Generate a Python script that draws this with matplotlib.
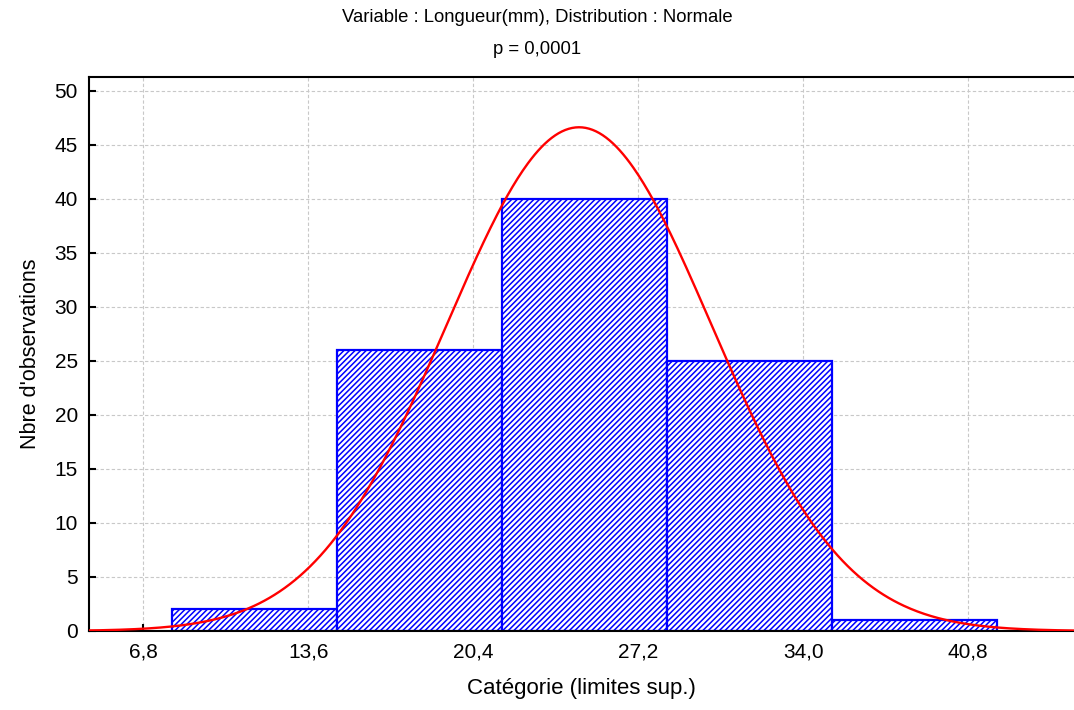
import numpy as np
import matplotlib
matplotlib.use("Agg")
import matplotlib.pyplot as plt
from matplotlib.ticker import FixedLocator

plt.rcParams['font.family'] = ['Liberation Sans', 'DejaVu Sans']
plt.rcParams['hatch.color'] = 'blue'
plt.rcParams['hatch.linewidth'] = 1.1

# histogram of lengths (mm), 5 classes of width 6.8
counts = [2, 26, 40, 25, 1]
first_edge = 7.97
bin_width = 6.8

# fitted normal curve
mean = 24.76
sd = 5.47
n_obs = sum(counts)

x_ticks = [6.8, 13.6, 20.4, 27.2, 34.0, 40.8]
x_ticklabels = ["6,8", "13,6", "20,4", "27,2", "34,0", "40,8"]
y_ticks = [0, 5, 10, 15, 20, 25, 30, 35, 40, 45, 50]


fig = plt.figure(figsize=(10.74, 7.10), dpi=100)
ax = fig.add_axes([89/1074, 1 - 631/710, (1074 - 89)/1074, (631 - 77)/710])

lefts = first_edge + bin_width*np.arange(len(counts))
ax.bar(lefts, counts, width=bin_width, align='edge', color='white',
       edgecolor='blue', linewidth=1.6, hatch='//////', zorder=2)

xs = np.linspace(4.0, 46.0, 600)
ys = n_obs*bin_width/(sd*np.sqrt(2*np.pi))*np.exp(-(xs - mean)**2/(2*sd**2))
ax.plot(xs, ys, color='red', linewidth=1.7, zorder=3)

ax.set_xlim(4.56, 45.16)
ax.set_ylim(0, 51.27)
ax.xaxis.set_major_locator(FixedLocator(x_ticks))
ax.set_xticklabels(x_ticklabels)
ax.yaxis.set_major_locator(FixedLocator(y_ticks))

ax.grid(True, color='#c8c8c8', linestyle=(0, (3, 2)), linewidth=0.8, zorder=0)
ax.set_axisbelow(True)
ax.tick_params(direction='in', length=5, width=1.5, labelsize=15, pad=8)

for side in ['left', 'bottom', 'top']:
    ax.spines[side].set_linewidth(1.5)
ax.spines['right'].set_visible(False)

ax.set_xlabel("Catégorie (limites sup.)", fontsize=16, labelpad=12)
ax.set_ylabel("Nbre d'observations", fontsize=15.5, labelpad=10)

fig.text(0.5, 1 - 17/710, "Variable : Longueur(mm), Distribution : Normale",
         ha='center', va='center', fontsize=13.3)
fig.text(0.5, 1 - 49/710, "p = 0,0001", ha='center', va='center', fontsize=13.3)

fig.savefig("out.png", dpi=100)
